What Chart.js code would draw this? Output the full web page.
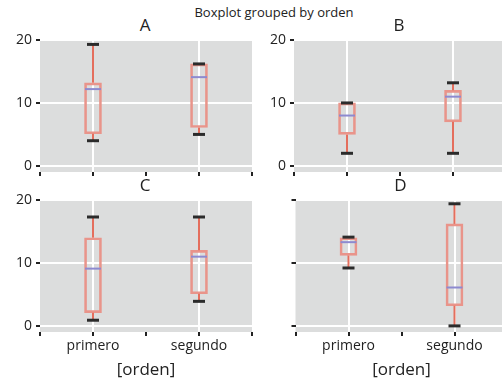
<!DOCTYPE html>
<html>
<head>
<meta charset="utf-8">
<script src="https://cdn.jsdelivr.net/npm/chart.js@4/dist/chart.umd.min.js"></script>
<style>
  html, body { margin: 0; padding: 0; width: 502px; height: 380px; overflow: hidden; background: #fff; }
  #wrap { position: relative; width: 502px; height: 380px; overflow: hidden; font-family: 'Open Sans', sans-serif; color: #222; }
  #wrap canvas { position: absolute; left: 0; top: 0; }
  .t { position: absolute; transform: translate(-50%, -50%); white-space: nowrap; line-height: 1; }
</style>
</head>
<body>
<div id="wrap">
  <div class="t" style="left:274px; top:12px; font-size:13px;">Boxplot grouped by orden</div>
</div>
<script>
// Groups, categories and axis ticks
const panels = ['A', 'B', 'C', 'D'];
const categories = ['primero', 'segundo'];
const yTicks = [0, 10, 20];
const xTicks = [0.5, 1, 1.5, 2, 2.5];

// Box statistics per panel: [primero, segundo]
const whiskerLow  = [[4.0, 5.0], [2.0, 2.0], [0.9, 3.9], [9.2, 0.0]];
const q1          = [[5.1, 6.1], [5.0, 7.0], [2.1, 5.1], [11.2, 3.2]];
const median      = [[12.2, 14.1], [8.0, 11.0], [9.1, 11.0], [13.3, 6.1]];
const q3          = [[13.2, 16.2], [10.0, 12.0], [14.0, 12.0], [14.0, 16.2]];
const whiskerHigh = [[19.3, 16.2], [10.0, 13.2], [17.3, 17.3], [14.1, 19.4]];

// Styling
const PANEL_BG = '#dcdddd';
const BOX_EDGE = '#e9948a';
const WHISKER = '#e46e5d';
const CAP = '#2b2b2b';
const MEDIAN = '#8d8ad0';
const TEXT = '#222';

Chart.defaults.font.family = "'Open Sans', sans-serif";
Chart.defaults.color = TEXT;

// Plot frames for the 2x2 grid (the right column runs slightly past the page edge)
const frames = [
  { left: 40,    top: 40,  right: 252,   bottom: 172, yLabels: true,  xLabels: false },
  { left: 294,   top: 40,  right: 506,   bottom: 172, yLabels: true,  xLabels: false },
  { left: 40,    top: 200, right: 252,   bottom: 332, yLabels: true,  xLabels: true },
  { left: 295.5, top: 200, right: 507.5, bottom: 332, yLabels: false, xLabels: true }
];
const CW = 512, CH = 380;
const Y_AXIS_W = 34;

// Panel background plus whiskers, caps and medians drawn through the chart scales
const boxDecor = {
  id: 'boxDecor',
  beforeDraw(chart) {
    const { ctx, chartArea: a } = chart;
    ctx.save();
    ctx.fillStyle = PANEL_BG;
    ctx.fillRect(a.left, a.top, a.right - a.left, a.bottom - a.top);
    ctx.restore();
  },
  afterDatasetsDraw(chart, args, opts) {
    const p = opts.panel;
    const { ctx } = chart;
    const xs = chart.scales.x, ys = chart.scales.y;
    const seg = (x1, y1, x2, y2, color, w) => {
      ctx.beginPath();
      ctx.strokeStyle = color;
      ctx.lineWidth = w;
      ctx.moveTo(x1, y1);
      ctx.lineTo(x2, y2);
      ctx.stroke();
    };
    ctx.save();
    categories.forEach((c, i) => {
      const x = xs.getPixelForValue(i + 1);
      const yLo = ys.getPixelForValue(whiskerLow[p][i]);
      const yQ1 = ys.getPixelForValue(q1[p][i]);
      const yMed = ys.getPixelForValue(median[p][i]);
      const yQ3 = ys.getPixelForValue(q3[p][i]);
      const yHi = ys.getPixelForValue(whiskerHigh[p][i]);
      seg(x, yQ3, x, yHi, WHISKER, 2);
      seg(x, yQ1, x, yLo, WHISKER, 2);
      seg(x - 6, yHi, x + 6, yHi, CAP, 3);
      seg(x - 6, yLo, x + 6, yLo, CAP, 3);
      seg(x - 8, yMed, x + 8, yMed, MEDIAN, 2);
    });
    ctx.restore();
  }
};

const wrap = document.getElementById('wrap');

panels.forEach((name, p) => {
  const f = frames[p];

  const title = document.createElement('div');
  title.className = 't';
  title.style.left = ((f.left + f.right) / 2 - 1) + 'px';
  title.style.top = (f.top - 16) + 'px';
  title.style.fontSize = '17px';
  title.textContent = name;
  wrap.appendChild(title);

  const canvas = document.createElement('canvas');
  canvas.width = CW;
  canvas.height = CH;
  canvas.style.width = CW + 'px';
  canvas.style.height = CH + 'px';
  wrap.appendChild(canvas);

  const xH = f.xLabels ? 48 : 8;

  new Chart(canvas, {
    type: 'bar',
    data: {
      datasets: [{
        data: categories.map((c, i) => ({ x: i + 1, y: [q1[p][i], q3[p][i]] })),
        backgroundColor: 'rgba(0,0,0,0)',
        borderColor: BOX_EDGE,
        borderWidth: 2,
        borderSkipped: false,
        barThickness: 17
      }]
    },
    options: {
      responsive: false,
      devicePixelRatio: 1,
      animation: false,
      events: [],
      layout: {
        padding: {
          left: f.left - Y_AXIS_W,
          top: f.top,
          right: CW - f.right,
          bottom: CH - f.bottom - xH
        }
      },
      plugins: {
        legend: { display: false },
        tooltip: { enabled: false },
        boxDecor: { panel: p }
      },
      scales: {
        x: {
          type: 'linear',
          min: 0.5,
          max: 2.5,
          offset: false,
          afterBuildTicks: s => { s.ticks = xTicks.map(v => ({ value: v })); },
          afterFit: s => { s.height = xH; },
          grid: {
            offset: false,
            color: c => (c.tick && Number.isInteger(c.tick.value)) ? '#ffffff' : 'rgba(0,0,0,0)',
            lineWidth: 2,
            drawTicks: true,
            tickLength: 4,
            tickColor: '#222',
            tickWidth: 2
          },
          border: { display: false },
          ticks: {
            display: f.xLabels,
            autoSkip: false,
            maxRotation: 0,
            padding: 2,
            font: { size: 14 },
            color: TEXT,
            callback: v => Number.isInteger(v) ? categories[v - 1] : ''
          },
          title: {
            display: f.xLabels,
            text: '[orden]',
            font: { size: 17 },
            color: TEXT,
            padding: 0
          }
        },
        y: {
          type: 'linear',
          min: -0.97,
          max: 20,
          afterBuildTicks: s => { s.ticks = yTicks.map(v => ({ value: v })); },
          afterFit: s => { s.width = Y_AXIS_W; },
          grid: {
            color: '#ffffff',
            lineWidth: 2,
            drawTicks: true,
            tickLength: 4,
            tickColor: '#222',
            tickWidth: 2
          },
          border: { display: false },
          ticks: {
            display: f.yLabels,
            padding: 4,
            font: { size: 14 },
            color: TEXT
          }
        }
      }
    },
    plugins: [boxDecor]
  });
});
</script>
</body>
</html>
